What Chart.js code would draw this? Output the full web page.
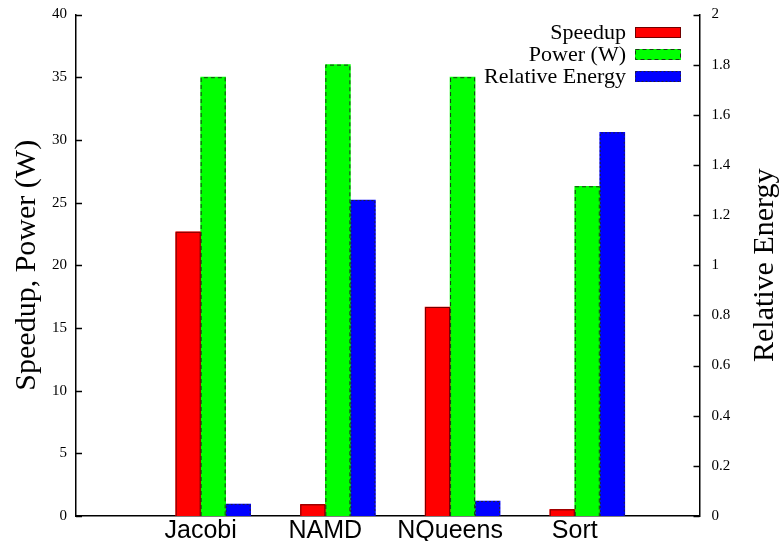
<!DOCTYPE html>
<html><head><meta charset="utf-8">
<script src="https://cdn.jsdelivr.net/npm/chart.js@4"></script>
<style>html,body{margin:0;padding:0;background:#fff}#wrap{width:780px;height:541px}</style>
</head><body><div id="wrap"><canvas id="c" width="780" height="541"></canvas></div>
<script>
const categories = ['Jacobi', 'NAMD', 'NQueens', 'Sort'];
const speedup = [22.67, 0.93, 16.67, 0.53];
const power = [35, 36, 35, 26.3];
const relEnergy = [0.048, 1.26, 0.06, 1.53];
const leftTicks = [0, 5, 10, 15, 20, 25, 30, 35, 40];
const rightTicks = [0, 0.2, 0.4, 0.6, 0.8, 1, 1.2, 1.4, 1.6, 1.8, 2];
const seriesNames = ['Speedup', 'Power (W)', 'Relative Energy'];
const leftTitle = 'Speedup, Power (W)';
const rightTitle = 'Relative Energy';

const SERIF = '"Liberation Serif", "Times New Roman", serif';
const SANS = '"Liberation Sans", Arial, sans-serif';

const toXY = arr => arr.map((v, i) => ({x: i, y: v}));

const styles = [
  {fill: '#ff0000', stroke: '#700000', dash: []},
  {fill: '#00ff00', stroke: '#1a3a1a', dash: [4, 3]},
  {fill: '#0000ff', stroke: '#202040', dash: [2, 2]}
];

const outlinePlugin = {
  id: 'outline',
  afterDatasetsDraw(chart) {
    const ctx = chart.ctx;
    chart.data.datasets.forEach((ds, di) => {
      const meta = chart.getDatasetMeta(di);
      const st = styles[di];
      meta.data.forEach(el => {
        const p = el.getProps(['x', 'y', 'base', 'width'], true);
        const l = p.x - p.width / 2, r = p.x + p.width / 2;
        ctx.save();
        ctx.strokeStyle = st.stroke;
        ctx.lineWidth = 1;
        ctx.setLineDash(st.dash);
        ctx.beginPath();
        ctx.moveTo(l + 0.5, p.base);
        ctx.lineTo(l + 0.5, p.y + 0.5);
        ctx.lineTo(r - 0.5, p.y + 0.5);
        ctx.lineTo(r - 0.5, p.base);
        ctx.stroke();
        ctx.restore();
      });
    });
  }
};

const decorPlugin = {
  id: 'decor',
  afterDraw(chart) {
    const ctx = chart.ctx;
    const a = chart.chartArea;
    const ys = chart.scales.y, y2 = chart.scales.y2;
    ctx.save();
    ctx.strokeStyle = '#000';
    ctx.lineWidth = 1.5;
    ctx.setLineDash([]);
    leftTicks.forEach(v => {
      const py = Math.round(ys.getPixelForValue(v)) + 0.5;
      ctx.beginPath(); ctx.moveTo(a.left, py); ctx.lineTo(a.left + 6, py); ctx.stroke();
    });
    rightTicks.forEach(v => {
      const py = Math.round(y2.getPixelForValue(v)) + 0.5;
      ctx.beginPath(); ctx.moveTo(a.right, py); ctx.lineTo(a.right - 6, py); ctx.stroke();
    });
    // axis titles
    ctx.fillStyle = '#000';
    ctx.font = '30px ' + SERIF;
    ctx.textAlign = 'center';
    ctx.textBaseline = 'middle';
    const cy = (a.top + a.bottom) / 2;
    ctx.save(); ctx.translate(27, cy); ctx.rotate(-Math.PI / 2); ctx.fillText(leftTitle, 0, 0); ctx.restore();
    ctx.save(); ctx.translate(765, cy); ctx.rotate(-Math.PI / 2); ctx.fillText(rightTitle, 0, 0); ctx.restore();
    // legend
    ctx.font = '22px ' + SERIF;
    ctx.textAlign = 'right';
    ctx.textBaseline = 'middle';
    chart.data.datasets.forEach((ds, i) => {
      const yc = 32.5 + i * 22;
      ctx.fillStyle = '#000';
      ctx.fillText(ds.label, 626, yc + 1);
      ctx.fillStyle = styles[i].fill;
      ctx.fillRect(635, yc - 5.5, 46, 11);
      ctx.save();
      ctx.strokeStyle = styles[i].stroke;
      ctx.lineWidth = 1;
      ctx.setLineDash(styles[i].dash);
      ctx.strokeRect(635.5, yc - 5, 45, 10);
      ctx.restore();
    });
    ctx.restore();
  }
};

const noPad = s => { s.paddingTop = 0; s.paddingBottom = 0; s.paddingLeft = 0; s.paddingRight = 0; };

new Chart(document.getElementById('c'), {
  type: 'bar',
  data: {
    datasets: [
      {label: seriesNames[0], data: toXY(speedup), yAxisID: 'y', backgroundColor: styles[0].fill, borderWidth: 0},
      {label: seriesNames[1], data: toXY(power), yAxisID: 'y', backgroundColor: styles[1].fill, borderWidth: 0},
      {label: seriesNames[2], data: toXY(relEnergy), yAxisID: 'y2', backgroundColor: styles[2].fill, borderWidth: 0}
    ]
  },
  options: {
    responsive: false,
    animation: false,
    devicePixelRatio: 1,
    barThickness: 25,
    layout: {padding: {top: 14.5, left: 0, right: 0, bottom: 0}},
    plugins: {legend: {display: false}, tooltip: {enabled: false}},
    scales: {
      x: {
        type: 'linear', min: -1.1, max: 3.9, offset: false,
        afterBuildTicks: s => { s.ticks = categories.map((c, i) => ({value: i})); },
        afterFit: s => { s.height = 25; noPad(s); },
        grid: {display: false, drawTicks: false},
        border: {display: true, color: '#000', width: 1.5},
        ticks: {
          callback: v => categories[v],
          font: {family: SANS, size: 25}, color: '#000', padding: 0,
          labelOffset: -12.5, autoSkip: false, maxRotation: 0
        }
      },
      y: {
        position: 'left', min: 0, max: 40,
        afterBuildTicks: s => { s.ticks = leftTicks.map(v => ({value: v})); },
        afterFit: s => { s.width = 76; noPad(s); },
        grid: {display: false, drawTicks: false},
        border: {display: true, color: '#000', width: 1.5},
        ticks: {font: {family: SERIF, size: 15}, color: '#000', padding: 9, callback: v => String(v)}
      },
      y2: {
        position: 'right', min: 0, max: 2,
        afterBuildTicks: s => { s.ticks = rightTicks.map(v => ({value: v})); },
        afterFit: s => { s.width = 80.5; noPad(s); },
        grid: {display: false, drawTicks: false},
        border: {display: true, color: '#000', width: 1.5},
        ticks: {font: {family: SERIF, size: 15}, color: '#000', padding: 12, callback: v => String(Number(v.toFixed(1)))}
      }
    }
  },
  plugins: [outlinePlugin, decorPlugin]
});
</script>
</body></html>
